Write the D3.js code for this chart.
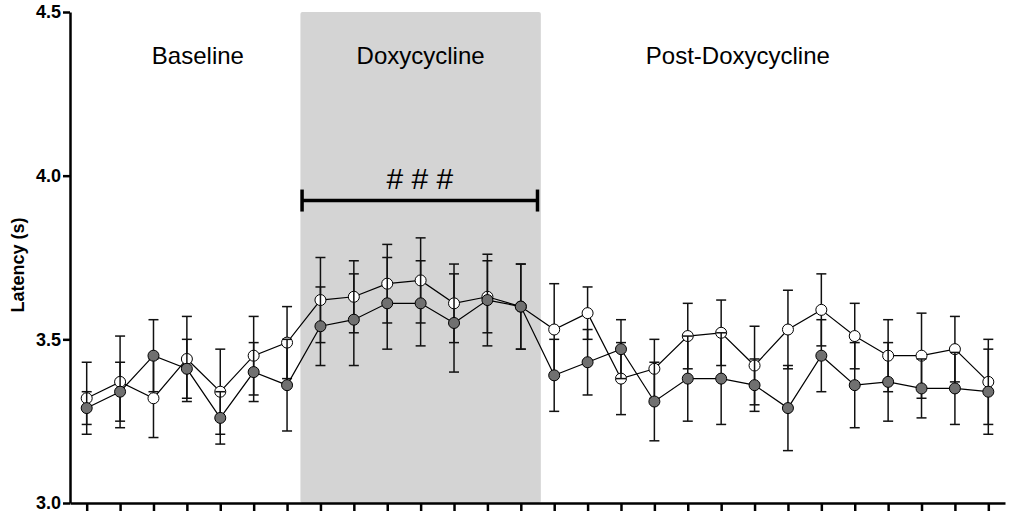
<!DOCTYPE html>
<html lang="en">
<head>
<meta charset="utf-8">
<title>Latency</title>
<style>
    body {
        margin: 0;
        background: #fff;
    }
    .axis path, .axis line {
        stroke: #000;
        stroke-width: 2.5px;
    }
    .axis text {
        font-family: "Liberation Sans", Arial, sans-serif;
        font-size: 18px;
        font-weight: bold;
        fill: #000;
    }
    .phase {
        font-family: "Liberation Sans", Arial, sans-serif;
        font-size: 24px;
        fill: #000;
    }
    .ylabel {
        font-family: "Liberation Sans", Arial, sans-serif;
        font-size: 18px;
        font-weight: bold;
    }
    .line {
        fill: none;
        stroke: #000;
        stroke-width: 1.2px;
    }
    .err line {
        stroke: #111;
        stroke-width: 1.5px;
    }
</style>
<script src="https://cdn.jsdelivr.net/npm/d3@7"></script>
</head>
<body>
<div id="chart"></div>
<script>
// sessions and phases
var sessions = [1, 2, 3, 4, 5, 6, 7, 8, 9, 10, 11, 12, 13, 14,
                15, 16, 17, 18, 19, 20, 21, 22, 23, 24, 25, 26, 27, 28];
var phases = ["Baseline", "Doxycycline", "Post-Doxycycline"];
var doxySessions = [8, 9, 10, 11, 12, 13, 14];
var sigLabel = "# # #";
var yTicks = [3.0, 3.5, 4.0, 4.5];

// open circles
var openMean = [3.32, 3.37, 3.32, 3.44, 3.34, 3.45, 3.49, 3.62, 3.63, 3.67, 3.68, 3.61, 3.63, 3.60,
                3.53, 3.58, 3.38, 3.41, 3.51, 3.52, 3.42, 3.53, 3.59, 3.51, 3.45, 3.45, 3.47, 3.37];
var openSem  = [0.11, 0.14, 0.12, 0.13, 0.13, 0.12, 0.11, 0.13, 0.11, 0.12, 0.13, 0.12, 0.11, 0.13,
                0.14, 0.08, 0.11, 0.09, 0.10, 0.10, 0.12, 0.12, 0.11, 0.10, 0.11, 0.13, 0.10, 0.13];

// filled circles
var fillMean = [3.29, 3.34, 3.45, 3.41, 3.26, 3.40, 3.36, 3.54, 3.56, 3.61, 3.61, 3.55, 3.62, 3.60,
                3.39, 3.43, 3.47, 3.31, 3.38, 3.38, 3.36, 3.29, 3.45, 3.36, 3.37, 3.35, 3.35, 3.34];
var fillSem  = [0.05, 0.09, 0.11, 0.09, 0.08, 0.09, 0.14, 0.12, 0.14, 0.14, 0.13, 0.15, 0.14, 0.13,
                0.11, 0.10, 0.09, 0.12, 0.13, 0.14, 0.08, 0.13, 0.11, 0.13, 0.12, 0.09, 0.11, 0.13];

var width = 1018, height = 513;
var margin = { top: 12, right: 13, bottom: 10, left: 70 };

var x = d3.scaleLinear()
    .domain([0.5, 28.5])
    .range([margin.left, width - margin.right]);
var y = d3.scaleLinear()
    .domain([3.0, 4.5])
    .range([height - margin.bottom, margin.top]);

var svg = d3.select("#chart").append("svg")
    .attr("width", width)
    .attr("height", height);

// shaded doxycycline period
var dFirst = doxySessions[0], dLast = doxySessions[doxySessions.length - 1];
svg.append("rect")
    .attr("x", x(dFirst - 0.6))
    .attr("y", y(4.5))
    .attr("width", x(dLast + 0.6) - x(dFirst - 0.6))
    .attr("height", y(3.0) - y(4.5))
    .attr("rx", 2)
    .attr("fill", "#d4d4d4");

// phase labels
var phaseX = [4.33, (dFirst + dLast) / 2, 20.5];
svg.selectAll(".phase")
    .data(phases)
    .enter().append("text")
    .attr("class", "phase")
    .attr("x", function(d, i) { return x(phaseX[i]); })
    .attr("y", 64)
    .attr("text-anchor", "middle")
    .text(function(d) { return d; });

// significance bracket
var by = y(3.924);
var bx0 = x(dFirst - 0.55), bx1 = x(dLast + 0.5);
svg.append("line")
    .attr("x1", bx0).attr("x2", bx1)
    .attr("y1", by).attr("y2", by)
    .attr("stroke", "#000").attr("stroke-width", 3.5);
[bx0, bx1].forEach(function(bx) {
    svg.append("line")
        .attr("x1", bx).attr("x2", bx)
        .attr("y1", by - 11).attr("y2", by + 11)
        .attr("stroke", "#000").attr("stroke-width", 3.5);
});
svg.append("text")
    .attr("x", (bx0 + bx1) / 2)
    .attr("y", by - 12)
    .attr("text-anchor", "middle")
    .style("font-family", "'Liberation Sans', Arial, sans-serif")
    .style("font-size", "30px")
    .text(sigLabel);

// one series: error bars, line, markers
function drawSeries(mean, sem, fill) {
    var data = sessions.map(function(s, i) { return { s: s, m: mean[i], e: sem[i] }; });
    var g = svg.append("g");

    var err = g.selectAll(".err")
        .data(data)
        .enter().append("g")
        .attr("class", "err");
    err.append("line")
        .attr("x1", function(d) { return x(d.s); })
        .attr("x2", function(d) { return x(d.s); })
        .attr("y1", function(d) { return y(d.m - d.e); })
        .attr("y2", function(d) { return y(d.m + d.e); });
    [1, -1].forEach(function(sign) {
        err.append("line")
            .attr("x1", function(d) { return x(d.s) - 5; })
            .attr("x2", function(d) { return x(d.s) + 5; })
            .attr("y1", function(d) { return y(d.m + sign * d.e); })
            .attr("y2", function(d) { return y(d.m + sign * d.e); });
    });

    var line = d3.line()
        .x(function(d) { return x(d.s); })
        .y(function(d) { return y(d.m); });
    g.append("path")
        .datum(data)
        .attr("class", "line")
        .attr("d", line);

    g.selectAll("circle")
        .data(data)
        .enter().append("circle")
        .attr("cx", function(d) { return x(d.s); })
        .attr("cy", function(d) { return y(d.m); })
        .attr("r", 5.5)
        .attr("fill", fill)
        .attr("stroke", "#000")
        .attr("stroke-width", 1);
}

drawSeries(openMean, openSem, "#fff");
drawSeries(fillMean, fillSem, "#707070");

// axes
svg.append("g")
    .attr("class", "axis")
    .attr("transform", "translate(" + margin.left + ",0)")
    .call(d3.axisLeft(y).tickValues(yTicks).tickFormat(d3.format(".1f"))
        .tickSize(7).tickSizeOuter(0).tickPadding(2));

svg.append("g")
    .attr("class", "axis")
    .attr("transform", "translate(0," + y(3.0) + ")")
    .call(d3.axisBottom(x).tickValues(sessions).tickFormat("")
        .tickSize(8).tickSizeOuter(0));

svg.append("text")
    .attr("class", "ylabel")
    .attr("transform", "rotate(-90)")
    .attr("x", -265)
    .attr("y", 24)
    .attr("text-anchor", "middle")
    .text("Latency (s)");
</script>
</body>
</html>
